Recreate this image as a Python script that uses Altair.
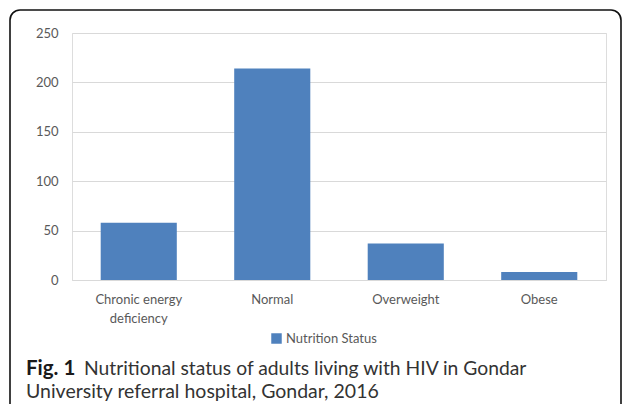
import altair as alt
import pandas as pd

categories = ["Chronic energy deficiency", "Normal", "Overweight", "Obese"]
values = [58, 214, 37, 8]
series_name = "Nutrition Status"
y_ticks = [0, 50, 100, 150, 200, 250]
caption_bold = "Fig. 1"
caption_line1 = "Nutritional status of adults living with HIV in Gondar"
caption_line2 = "University referral hospital, Gondar, 2016"

df = pd.DataFrame({"category": categories, "value": values, "series": [series_name] * len(categories)})

W, H = 534, 247
LABEL_FONT = "Lato"
CAP_FONT = "Lato"
GRAY = "#595959"

bars = alt.Chart(df).mark_bar(color="#4F81BD").encode(
    x=alt.X(
        "category:N",
        sort=categories,
        scale=alt.Scale(paddingInner=0.43, paddingOuter=0.215),
        axis=alt.Axis(
            title=None,
            labelAngle=0,
            labelFont=LABEL_FONT,
            labelFontSize=13,
            labelColor=GRAY,
            labelPadding=13,
            labelLineHeight=19,
            ticks=False,
            domainColor="#D9D9D9",
            labelExpr="datum.label == 'Chronic energy deficiency' ? ['Chronic energy', 'deficiency'] : datum.label",
        ),
    ),
    y=alt.Y(
        "value:Q",
        scale=alt.Scale(domain=[0, 250], nice=False),
        axis=alt.Axis(
            title=None,
            values=y_ticks,
            labelFont=LABEL_FONT,
            labelFontSize=13,
            labelColor=GRAY,
            labelPadding=14,
            ticks=False,
            domain=False,
            gridColor="#D9D9D9",
            gridWidth=1,
        ),
    ),
    color=alt.Color(
        "series:N",
        scale=alt.Scale(range=["#4F81BD"]),
        legend=alt.Legend(
            title=None,
            orient="none",
            legendX=198,
            legendY=299,
            symbolType="square",
            symbolSize=110,
            symbolStrokeWidth=0,
            labelFont=LABEL_FONT,
            labelFontSize=13,
            labelColor=GRAY,
            labelOffset=3,
        ),
    ),
)

frame_df = pd.DataFrame({"k": [0]})
frame = alt.Chart(frame_df).mark_rect(
    fill=None, stroke="#111111", strokeWidth=1.6, cornerRadius=10
).encode(
    x=alt.value(-62), x2=alt.value(549), y=alt.value(-23), y2=alt.value(410)
)

cap_df = pd.DataFrame({"t": [caption_bold]})
cap_bold = alt.Chart(cap_df).mark_text(
    align="left", baseline="alphabetic", font=CAP_FONT, fontSize=20.5, fontWeight="bold", color="#1a1a1a"
).encode(x=alt.value(-46), y=alt.value(342), text="t:N")

cap1_df = pd.DataFrame({"t": [caption_line1]})
cap1 = alt.Chart(cap1_df).mark_text(
    align="left", baseline="alphabetic", font=CAP_FONT, fontSize=19.3, color="#333333"
).encode(x=alt.value(12), y=alt.value(342), text="t:N")

cap2_df = pd.DataFrame({"t": [caption_line2]})
cap2 = alt.Chart(cap2_df).mark_text(
    align="left", baseline="alphabetic", font=CAP_FONT, fontSize=19.5, color="#333333"
).encode(x=alt.value(-46), y=alt.value(365), text="t:N")

chart = alt.layer(frame, bars, cap_bold, cap1, cap2).properties(
    width=W,
    height=H,
    autosize=alt.AutoSizeParams(type="none"),
    padding={"left": 64, "top": 25, "right": 16, "bottom": 124},
).configure_view(stroke=None).configure(background="white")

chart.save("out.html", embed_options={"renderer": "svg", "actions": False})
